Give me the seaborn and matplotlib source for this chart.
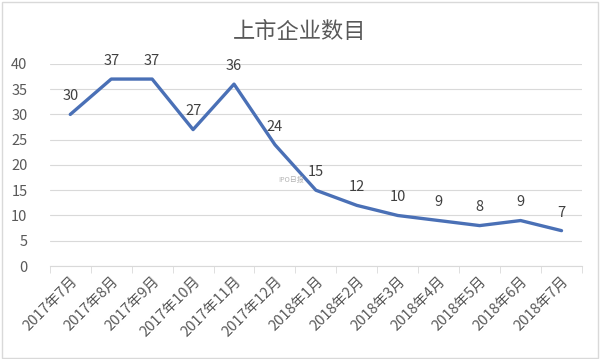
import numpy as np
import pandas as pd
import matplotlib
matplotlib.use("Agg")
import matplotlib.pyplot as plt
import seaborn as sns

months = ["2017年7月", "2017年8月", "2017年9月", "2017年10月", "2017年11月", "2017年12月",
          "2018年1月", "2018年2月", "2018年3月", "2018年4月", "2018年5月", "2018年6月", "2018年7月"]
counts = [30, 37, 37, 27, 36, 24, 15, 12, 10, 9, 8, 9, 7]
yticks = [0, 5, 10, 15, 20, 25, 30, 35, 40]

sns.set_style("white")
plt.rcParams['font.family'] = ['Noto Sans CJK SC', 'DejaVu Sans']
plt.rcParams['axes.unicode_minus'] = False

df = pd.DataFrame({"pos": np.arange(len(months)), "count": counts})

fig = plt.figure(figsize=(6, 3.59), dpi=100)
ax = fig.add_axes([0.083, 0.259, 0.887, 0.563])
sns.lineplot(data=df, x="pos", y="count", ax=ax, color="#4A70B6", linewidth=2.4)

for i, v in enumerate(counts):
    ax.annotate(str(v), (i, v), xytext=(0, 8), textcoords="offset points",
                ha="center", va="bottom", fontsize=10.5, color="#404040")

# 水印
ax.text(5.4, 17.0, "IPO日报", ha="center", va="center", fontsize=5, color="#A0A0A0", alpha=0.8)

ax.set_xlim(-0.5, len(months) - 0.5)
ax.set_ylim(0, 40)
ax.set_yticks(yticks)
ax.set_xticks(np.arange(len(months)))
ax.set_xticklabels(months, rotation=45, ha="right", va="top", rotation_mode="anchor")
ax.set_xticks(np.arange(len(months) + 1) - 0.5, minor=True)
ax.tick_params(axis="x", which="major", length=0, labelsize=10.5, labelcolor="#595959", pad=6)
ax.tick_params(axis="x", which="minor", length=5, color="#D9D9D9", bottom=True)
ax.tick_params(axis="y", length=0, labelsize=10.5, labelcolor="#595959", pad=16)
ax.grid(axis="y", color="#D9D9D9", linewidth=0.8)
for s in ["top", "right", "left"]:
    ax.spines[s].set_visible(False)
ax.spines["bottom"].set_color("#D9D9D9")
ax.set_xlabel("")
ax.set_ylabel("")

fig.text(0.5, 0.912, "上市企业数目", ha="center", va="center", fontsize=16, color="#595959")
fig.add_artist(plt.Rectangle((0.003, 0.004), 0.994, 0.99, transform=fig.transFigure,
                             fill=False, edgecolor="#D9D9D9", linewidth=1))

plt.savefig("out.png", dpi=100)
